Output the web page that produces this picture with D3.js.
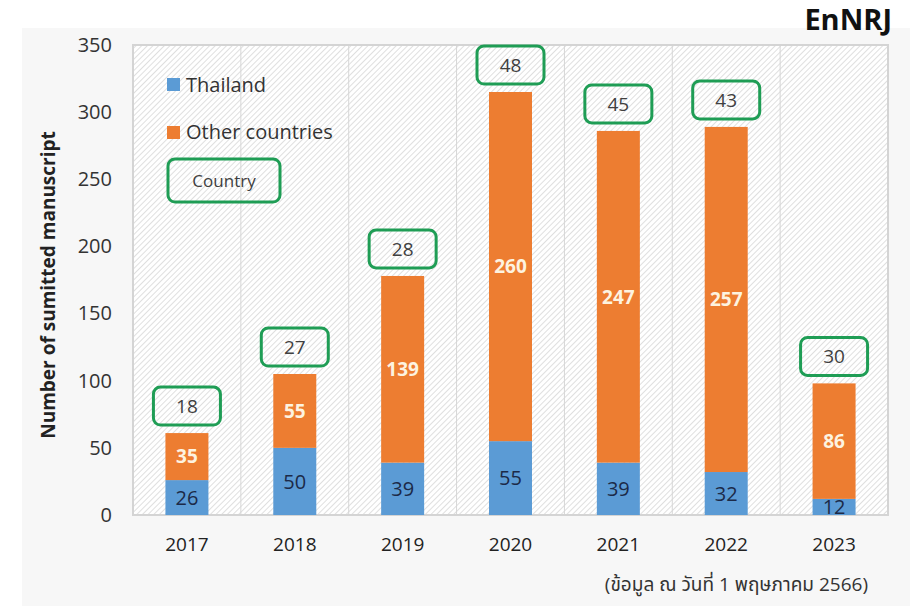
<!DOCTYPE html>
<html><head><meta charset="utf-8">
<script src="https://cdn.jsdelivr.net/npm/d3@7"></script>
<style>
body{margin:0;background:#fff;}
svg{display:block;}
text{font-family:"Open Sans","Noto Sans","Noto Sans Thai",sans-serif;}
</style></head>
<body>
<svg id="c" width="910" height="606"></svg>
<script>
const years = ["2017","2018","2019","2020","2021","2022","2023"];
const thailand = [26,50,39,55,39,32,12];
const others = [35,55,139,260,247,257,86];
const countries = [18,27,28,48,45,43,30];
const yTicks = [0,50,100,150,200,250,300,350];

const W=910,H=606;
const plot={l:133,r:888,t:45,b:515};
const svg=d3.select("#c");

const defs=svg.append("defs");
const pat=defs.append("pattern").attr("id","hatch").attr("patternUnits","userSpaceOnUse")
  .attr("width",4).attr("height",4).attr("patternTransform","rotate(45)");
pat.append("rect").attr("width",4).attr("height",4).attr("fill","#ffffff");
pat.append("line").attr("x1",0).attr("y1",0).attr("x2",0).attr("y2",4)
  .attr("stroke","#d2d2d2").attr("stroke-width",1.4);

// outer panel
svg.append("rect").attr("x",22).attr("y",28).attr("width",W-22).attr("height",H-28).attr("fill","#f7f7f7");

const x=d3.scaleBand().domain(years).range([plot.l,plot.r]).padding(0);
const y=d3.scaleLinear().domain([0,350]).range([plot.b,plot.t]);

// plot area
svg.append("rect").attr("x",plot.l).attr("y",plot.t).attr("width",plot.r-plot.l).attr("height",plot.b-plot.t)
  .attr("fill","url(#hatch)");
// vertical gridlines
svg.append("g").selectAll("line").data(years.slice(1)).join("line")
  .attr("x1",d=>x(d)).attr("x2",d=>x(d)).attr("y1",plot.t).attr("y2",plot.b)
  .attr("stroke","#d6d6d6").attr("stroke-width",1);
svg.append("rect").attr("x",plot.l).attr("y",plot.t).attr("width",plot.r-plot.l).attr("height",plot.b-plot.t)
  .attr("fill","none").attr("stroke","#d4d4d4").attr("stroke-width",2);

// y axis
const yAxis=d3.axisLeft(y).tickValues(yTicks).tickSize(0).tickPadding(21);
const ga=svg.append("g").attr("transform",`translate(${plot.l},0)`).call(yAxis);
ga.select(".domain").remove();
ga.selectAll("text").attr("font-size",20).attr("fill","#333").attr("font-family","'Open Sans',sans-serif");

// x axis
const xAxis=d3.axisBottom(x).tickSize(0).tickPadding(23);
const gx=svg.append("g").attr("transform",`translate(0,${plot.b})`).call(xAxis);
gx.select(".domain").remove();
gx.selectAll("text").attr("font-size",19).attr("fill","#222").attr("font-family","'Open Sans',sans-serif");

const bw=43;
const data=years.map((d,i)=>({year:d,th:thailand[i],ot:others[i],c:countries[i]}));
const bars=svg.append("g");
bars.selectAll(".th").data(data).join("rect")
  .attr("x",d=>x(d.year)+x.bandwidth()/2-bw/2).attr("width",bw)
  .attr("y",d=>y(d.th)).attr("height",d=>y(0)-y(d.th)).attr("fill","#5b9bd5");
bars.selectAll(".ot").data(data).join("rect")
  .attr("x",d=>x(d.year)+x.bandwidth()/2-bw/2).attr("width",bw)
  .attr("y",d=>y(d.th+d.ot)).attr("height",d=>y(d.th)-y(d.th+d.ot)).attr("fill","#ed7d31");

// labels
const cx=d=>x(d.year)+x.bandwidth()/2;
svg.append("g").selectAll("text").data(data).join("text")
  .attr("x",cx).attr("y",d=>(y(d.th)+y(0))/2).attr("dy","0.36em")
  .attr("text-anchor","middle").attr("font-size",20).attr("fill","#1c2a48")
  .text(d=>d.th);
svg.append("g").selectAll("text").data(data).join("text")
  .attr("x",cx).attr("y",d=>(y(d.th)+y(d.th+d.ot))/2).attr("dy","0.36em")
  .attr("text-anchor","middle").attr("font-size",19).attr("font-weight","bold").attr("fill","#fdf3e0")
  .text(d=>d.ot);

// country boxes
const bwid=67,bh=38,gap=8;
const cb=svg.append("g");
cb.selectAll("rect").data(data).join("rect")
  .attr("x",d=>cx(d)-bwid/2).attr("y",d=>y(d.th+d.ot)-gap-bh)
  .attr("width",bwid).attr("height",bh).attr("rx",7)
  .attr("fill","none").attr("stroke","#1f9d55").attr("stroke-width",3);
cb.selectAll("text").data(data).join("text")
  .attr("x",cx).attr("y",d=>y(d.th+d.ot)-gap-bh/2).attr("dy","0.36em")
  .attr("text-anchor","middle").attr("font-size",19).attr("fill","#404040")
  .text(d=>d.c);

// legend
const lg=svg.append("g");
lg.append("rect").attr("x",167).attr("y",78).attr("width",13).attr("height",13).attr("fill","#5b9bd5");
lg.append("text").attr("x",186).attr("y",85).attr("dy","0.36em").attr("font-size",20).attr("fill","#333").text("Thailand");
lg.append("rect").attr("x",167).attr("y",126).attr("width",13).attr("height",13).attr("fill","#ed7d31");
lg.append("text").attr("x",186).attr("y",132).attr("dy","0.36em").attr("font-size",20).attr("fill","#333").text("Other countries");
lg.append("rect").attr("x",168).attr("y",159).attr("width",112).attr("height",43).attr("rx",7)
  .attr("fill","none").attr("stroke","#1f9d55").attr("stroke-width",3);
lg.append("text").attr("x",224).attr("y",181).attr("dy","0.36em").attr("text-anchor","middle").attr("font-size",17).attr("fill","#404040").text("Country");

// y title
svg.append("text").attr("transform","translate(48,285) rotate(-90)").attr("text-anchor","middle")
  .attr("dy","0.36em").attr("font-size",19).attr("font-weight","bold").attr("fill","#222")
  .text("Number of sumitted manuscript");

// brand
svg.append("text").attr("x",892).attr("y",20).attr("dy","0.36em").attr("text-anchor","end")
  .attr("font-family","'DejaVu Sans',sans-serif").attr("font-weight","bold").attr("font-size",29).attr("fill","#111")
  .text("EnNRJ");

// note
svg.append("text").attr("x",868).attr("y",584).attr("dy","0.36em").attr("text-anchor","end")
  .attr("font-size",19).attr("fill","#333").attr("font-family","'Noto Sans Thai','Noto Sans','Open Sans',sans-serif")
  .text("(ข้อมูล ณ วันที่ 1 พฤษภาคม 2566)");
</script>
</body></html>
